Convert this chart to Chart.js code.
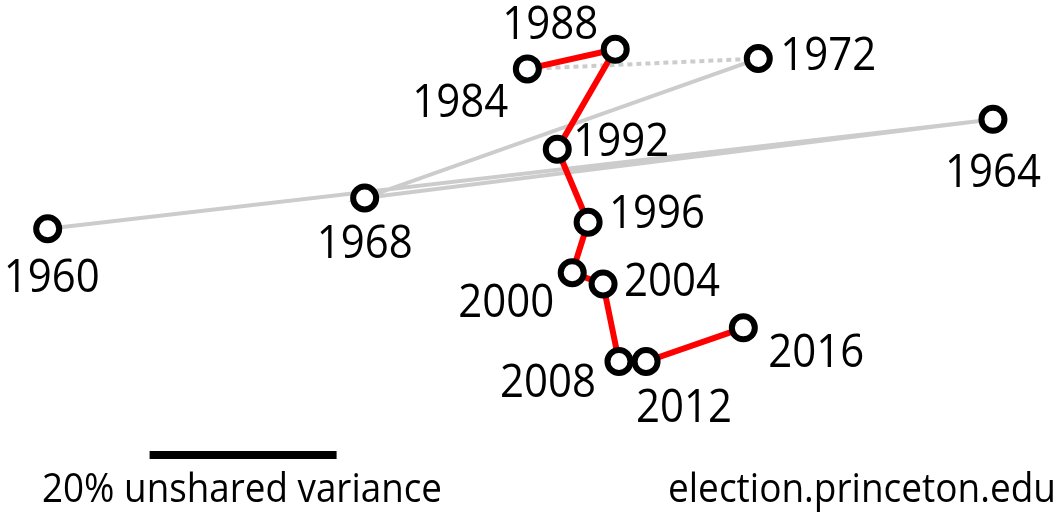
<!DOCTYPE html>
<html>
<head>
<meta charset="utf-8">
<script src="https://cdn.jsdelivr.net/npm/chart.js@4"></script>
<style>
  html, body { margin: 0; padding: 0; background: #fff; }
  canvas { display: block; }
</style>
</head>
<body>
<canvas id="chart" width="1060" height="513"></canvas>
<script>
// años de elección y posición de cada uno (unidades: % de varianza no compartida)
const years = ['1960', '1964', '1968', '1972', '1984', '1988', '1992', '1996', '2000', '2004', '2008', '2012', '2016'];
const xVals = [5.1, 106.2, 39.0, 81.1, 56.4, 65.8, 59.6, 62.9, 61.2, 64.5, 66.2, 69.1, 79.5];
const yVals = [30.4, 42.1, 33.7, 48.6, 47.5, 49.6, 38.9, 31.1, 25.7, 24.5, 16.2, 16.2, 19.8];

// barra de escala: 20% de varianza
const scaleBarX = [16, 36];
const scaleBarY = 6.2;

// donde va cada etiqueta respecto a su punto (px: centro x, linea base y)
const labelPos = {
  '1960': [4, 63], '1964': [0, 68], '1968': [0, 60], '1972': [70, 11],
  '1984': [-67, 48], '1988': [-65, -10], '1992': [64, 7], '1996': [69, 6],
  '2000': [-66, 44], '2004': [69, 12], '2008': [-71, 35], '2012': [38, 60],
  '2016': [73, 39]
};

const pts = years.map((y, i) => ({ x: xVals[i], y: yVals[i] }));
const grayPts = pts.slice(0, 4);      // 1960-1972
const gapPts = pts.slice(3, 5);       // 1972 -> 1984 (faltan 1976 y 1980)
const redPts = pts.slice(4);          // 1984-2016

const yearLabels = {
  id: 'yearLabels',
  afterDatasetsDraw(chart) {
    const ctx = chart.ctx;
    const xs = chart.scales.x, ys = chart.scales.y;
    ctx.save();
    ctx.fillStyle = '#000';
    ctx.font = '46px "Open Sans"';
    ctx.textAlign = 'center';
    ctx.textBaseline = 'alphabetic';
    years.forEach((yr, i) => {
      const px = xs.getPixelForValue(xVals[i]);
      const py = ys.getPixelForValue(yVals[i]);
      const off = labelPos[yr];
      ctx.fillText(yr, px + off[0], py + off[1], 96);
    });
    // textos de abajo
    ctx.font = '40px "Open Sans"';
    ctx.textAlign = 'left';
    ctx.fillText('20% unshared variance', 42, 502, 400);
    ctx.fillText('election.princeton.edu', 668, 502, 388);
    ctx.restore();
  }
};

const ctx = document.getElementById('chart').getContext('2d');
const chart = new Chart(ctx, {
  type: 'scatter',
  data: {
    datasets: [
      {
        data: pts,
        showLine: false,
        pointStyle: 'circle',
        pointRadius: 11.5,
        pointBorderWidth: 6,
        pointBorderColor: '#000',
        pointBackgroundColor: '#fff'
      },
      {
        data: redPts,
        showLine: true,
        borderColor: '#ff0000',
        borderWidth: 6,
        pointRadius: 0
      },
      {
        data: gapPts,
        showLine: true,
        borderColor: '#cccccc',
        borderWidth: 4,
        borderDash: [5, 4],
        pointRadius: 0
      },
      {
        data: grayPts,
        showLine: true,
        borderColor: '#cccccc',
        borderWidth: 4,
        pointRadius: 0
      },
      {
        data: scaleBarX.map(v => ({ x: v, y: scaleBarY })),
        showLine: true,
        borderColor: '#000',
        borderWidth: 8,
        borderCapStyle: 'butt',
        pointRadius: 0
      }
    ]
  },
  options: {
    responsive: false,
    animation: false,
    layout: { padding: 0, autoPadding: false },
    plugins: {
      legend: { display: false },
      tooltip: { enabled: false }
    },
    scales: {
      x: { type: 'linear', display: false, min: 0, max: 1060 / 9.35 },
      y: { type: 'linear', display: false, min: 0, max: 513 / 9.35 }
    }
  },
  plugins: [yearLabels]
});
</script>
</body>
</html>
